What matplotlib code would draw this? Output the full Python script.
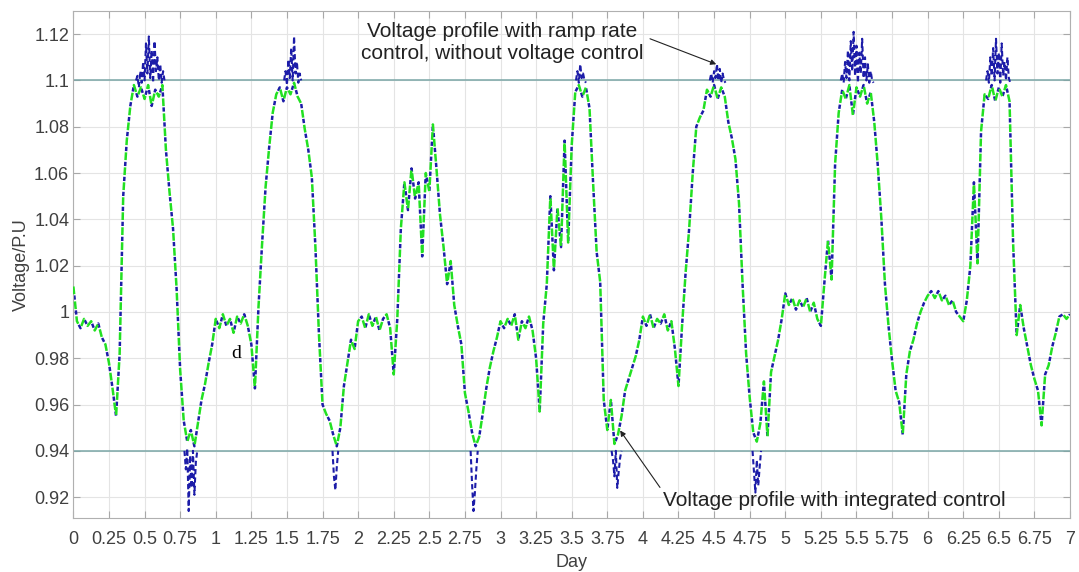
import matplotlib
matplotlib.use("Agg")
import matplotlib.pyplot as plt
import numpy as np

plt.rcParams["font.family"] = ["Liberation Sans", "DejaVu Sans"]

# Bus voltage with integrated control, sampled every 0.025 day (one row = 0.25 day)
day = np.linspace(0.0, 7.0, 281)
v_integrated = [
    1.011, 0.996, 0.993, 0.997, 0.994, 0.996, 0.992, 0.995, 0.989, 0.986,
    0.978, 0.967, 0.955, 0.982, 1.050, 1.074, 1.089, 1.098, 1.093, 1.097,
    1.092, 1.098, 1.089, 1.096, 1.093, 1.098, 1.070, 1.052, 1.036, 1.010,
    0.975, 0.953, 0.944, 0.949, 0.942, 0.952, 0.962, 0.969, 0.978, 0.986,
    0.997, 0.993, 0.999, 0.994, 0.997, 0.991, 0.998, 0.995, 0.999, 0.994,
    0.986, 0.967, 1.002, 1.029, 1.054, 1.071, 1.086, 1.094, 1.097, 1.091,
    1.097, 1.094, 1.099, 1.093, 1.090, 1.079, 1.070, 1.058, 1.028, 0.990,
    0.960, 0.956, 0.953, 0.947, 0.942, 0.950, 0.968, 0.978, 0.988, 0.984,
    0.996, 0.998, 0.993, 0.999, 0.994, 0.998, 0.992, 0.997, 0.999, 0.993,
    0.973, 0.997, 1.036, 1.056, 1.044, 1.062, 1.049, 1.056, 1.024, 1.060,
    1.052, 1.081, 1.062, 1.042, 1.028, 1.012, 1.022, 1.003, 0.994, 0.986,
    0.965, 0.957, 0.948, 0.942, 0.946, 0.956, 0.967, 0.976, 0.983, 0.989,
    0.996, 0.993, 0.997, 0.994, 0.999, 0.988, 0.996, 0.993, 0.998, 0.992,
    0.980, 0.957, 0.995, 1.012, 1.050, 1.018, 1.045, 1.028, 1.074, 1.030,
    1.072, 1.095, 1.098, 1.093, 1.097, 1.088, 1.056, 1.026, 1.013, 0.962,
    0.949, 0.962, 0.943, 0.947, 0.955, 0.966, 0.971, 0.976, 0.981, 0.988,
    0.998, 0.994, 0.999, 0.993, 0.997, 0.995, 0.999, 0.992, 0.996, 0.984,
    0.968, 0.994, 1.017, 1.036, 1.060, 1.080, 1.084, 1.087, 1.096, 1.093,
    1.098, 1.092, 1.097, 1.093, 1.082, 1.075, 1.066, 1.047, 1.012, 0.982,
    0.963, 0.948, 0.944, 0.952, 0.970, 0.946, 0.974, 0.981, 0.988, 0.997,
    1.008, 1.003, 1.006, 1.001, 1.005, 1.002, 1.006, 1.000, 1.004, 0.997,
    0.994, 1.013, 1.031, 1.014, 1.064, 1.086, 1.096, 1.092, 1.098, 1.085,
    1.097, 1.093, 1.098, 1.090, 1.095, 1.082, 1.063, 1.040, 1.012, 0.994,
    0.979, 0.966, 0.961, 0.947, 0.973, 0.983, 0.988, 0.995, 1.000, 1.004,
    1.007, 1.009, 1.006, 1.009, 1.005, 1.007, 1.003, 1.005, 1.000, 0.998,
    0.996, 1.005, 1.020, 1.056, 1.021, 1.078, 1.094, 1.092, 1.098, 1.091,
    1.097, 1.093, 1.098, 1.091, 1.030, 0.990, 1.003, 0.993, 0.985, 0.977,
    0.971, 0.966, 0.951, 0.973, 0.977, 0.985, 0.991, 0.998, 0.999, 0.997,
    0.999,
]

# Ramp-rate-only profile where it leaves the 0.94-1.1 band (0.01 day steps);
# elsewhere it follows the integrated-control curve
ramp_starts = [0.44, 0.78, 1.48, 1.82, 2.79, 3.53, 3.78, 4.47, 4.77, 5.39, 6.41]
ramp_peak_d0 = [1.100, 1.102, 1.097, 1.104, 1.099, 1.108, 1.100, 1.116, 1.103, 1.119, 1.101,
                1.113, 1.099, 1.117, 1.104, 1.110, 1.100, 1.107, 1.099, 1.104, 1.100]
ramp_dip_d0 = [0.940, 0.932, 0.941, 0.914, 0.938, 0.924, 0.940, 0.921, 0.935, 0.940]
ramp_peak_d1 = [1.100, 1.104, 1.098, 1.109, 1.101, 1.114, 1.100, 1.119, 1.103, 1.108, 1.099,
                1.103, 1.100]
ramp_dip_d1 = [0.940, 0.929, 0.923, 0.933, 0.940]
ramp_dip_d2 = [0.940, 0.926, 0.914, 0.922, 0.932, 0.940]
ramp_peak_d3 = [1.100, 1.104, 1.099, 1.107, 1.101, 1.103, 1.100, 1.099]
ramp_dip_d3 = [0.940, 0.936, 0.929, 0.940, 0.924, 0.931, 0.937, 0.940]
ramp_peak_d4 = [1.100, 1.103, 1.099, 1.104, 1.101, 1.107, 1.100, 1.105, 1.099, 1.103, 1.100, 1.099]
ramp_dip_d4 = [0.940, 0.931, 0.922, 0.936, 0.925, 0.933, 0.940]
ramp_peak_d5 = [1.100, 1.103, 1.099, 1.108, 1.101, 1.113, 1.100, 1.117, 1.104, 1.121, 1.102,
                1.115, 1.099, 1.112, 1.103, 1.118, 1.101, 1.110, 1.100, 1.107, 1.099, 1.104,
                1.100, 1.099]
ramp_peak_d6 = [1.100, 1.104, 1.099, 1.110, 1.102, 1.114, 1.100, 1.118, 1.103, 1.112, 1.099,
                1.116, 1.102, 1.108, 1.100, 1.110, 1.101, 1.099]
ramp_events = [ramp_peak_d0, ramp_dip_d0, ramp_peak_d1, ramp_dip_d1, ramp_dip_d2, ramp_peak_d3,
               ramp_dip_d3, ramp_peak_d4, ramp_dip_d4, ramp_peak_d5, ramp_peak_d6]

v_upper, v_lower = 1.10, 0.94

xtick_vals = np.arange(0, 7.01, 0.25)
ytick_vals = np.arange(0.92, 1.121, 0.02)

BLUE = "#1c1ca8"
GREEN = "#22e022"


def fmt(v):
    return f"{v:.2f}".rstrip("0").rstrip(".")


fig = plt.figure(figsize=(10.79, 5.72), dpi=100)
ax = fig.add_axes([0.068, 0.0944, 0.9237, 0.8864])

ax.axhline(v_upper, color="#7aa6a6", lw=1.1, zorder=1)
ax.axhline(v_lower, color="#7aa6a6", lw=1.1, zorder=1)

# ramp-only curve: same path as the green one, dashes shifted into the green gaps
ax.plot(day, v_integrated, color=BLUE, lw=1.8, linestyle=(2.4, (1.7, 4.3)),
        dash_capstyle="butt", zorder=2)
ax.plot(day, v_integrated, color=GREEN, lw=1.8, linestyle=(0, (3.1, 2.9)),
        dash_capstyle="butt", zorder=3)
for start, vals in zip(ramp_starts, ramp_events):
    idx = start + 0.01 * np.arange(len(vals))
    ax.plot(idx, vals, color=BLUE, lw=1.5, dashes=(2.5, 1.5), zorder=2.5)

ax.set_xlim(0, 7)
ax.set_ylim(0.911, 1.13)
ax.set_xticks(xtick_vals)
ax.set_xticklabels([fmt(v) for v in xtick_vals])
ax.set_yticks(ytick_vals)
ax.set_yticklabels([fmt(v) for v in ytick_vals])
ax.grid(True, color="#e4e4e4", lw=0.8)
ax.set_axisbelow(True)
ax.tick_params(direction="in", top=True, right=True, length=5, color="#a8a8a8",
               labelsize=13, labelcolor="#404040")
ax.tick_params(axis="x", pad=9)
ax.tick_params(axis="y", pad=3)
for s in ax.spines.values():
    s.set_color("#b0b0b0")

ax.set_xlabel("Day", fontsize=13, color="#404040", labelpad=5)
ax.set_ylabel("Voltage/P.U", fontsize=13, color="#404040", labelpad=3)

ax.text(3.01, 1.1165, "Voltage profile with ramp rate\ncontrol, without voltage control",
        ha="center", va="center", fontsize=15, color="#222222", linespacing=1.2, zorder=5)
ax.annotate("", xy=(4.515, 1.107), xytext=(4.05, 1.118),
            arrowprops=dict(arrowstyle="-|>", color="#222222", lw=0.8,
                            mutation_scale=8, shrinkA=0, shrinkB=0))
ax.text(4.14, 0.9186, "Voltage profile with integrated control",
        ha="left", va="center", fontsize=15, color="#222222", zorder=5)
ax.annotate("", xy=(3.84, 0.9488), xytext=(4.12, 0.9242),
            arrowprops=dict(arrowstyle="-|>", color="#222222", lw=0.8,
                            mutation_scale=8, shrinkA=0, shrinkB=0))
ax.text(1.142, 0.982, "d", family="Liberation Serif", fontsize=14, color="black",
        ha="center", va="center")

fig.savefig("out.png", dpi=100)
